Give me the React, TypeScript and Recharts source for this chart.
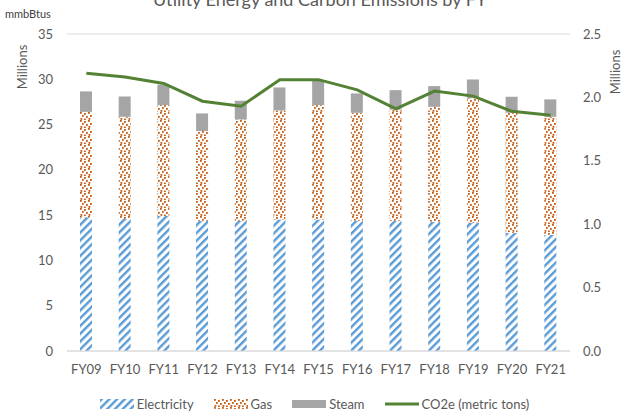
import React from "react";
import {
  Bar,
  CartesianGrid,
  ComposedChart,
  Legend,
  Line,
  XAxis,
  YAxis,
} from "recharts";

const years = ["FY09", "FY10", "FY11", "FY12", "FY13", "FY14", "FY15", "FY16", "FY17", "FY18", "FY19", "FY20", "FY21"];
// mmbtus, in millions
const electricity = [14.76, 14.57, 14.9, 14.38, 14.38, 14.53, 14.53, 14.38, 14.38, 14.27, 14.16, 13.06, 12.8];
const gas = [11.64, 11.29, 12.25, 9.9, 11.19, 12.03, 12.62, 11.92, 12.29, 12.69, 13.74, 13.24, 13.06];
const steam = [2.26, 2.24, 2.25, 1.95, 2.06, 2.54, 2.75, 2.14, 2.13, 2.29, 2.08, 1.77, 1.92];
// metric tons, in millions
const co2e = [2.19, 2.16, 2.11, 1.97, 1.93, 2.14, 2.14, 2.06, 1.91, 2.05, 2.01, 1.89, 1.86];

const leftTicks = [0, 5, 10, 15, 20, 25, 30, 35];
const rightTicks = [0, 0.5, 1, 1.5, 2, 2.5];

const data = years.map((fy, i) => ({
  fy,
  electricity: electricity[i],
  gas: gas[i],
  steam: steam[i],
  co2e: co2e[i],
}));

const FONT = "Lato, 'Open Sans', sans-serif";
const TEXT = "#595959";

const legendItems = [
  { name: "Electricity", kind: "elec" },
  { name: "Gas", kind: "gas" },
  { name: "Steam", kind: "steam" },
  { name: "CO2e (metric tons)", kind: "line" },
];

function LegendContent() {
  return (
    <div
      style={{
        display: "flex",
        justifyContent: "center",
        gap: 20,
        fontFamily: FONT,
        fontSize: 13,
        lineHeight: "14px",
        color: TEXT,
        height: 14,
        alignItems: "center",
        paddingLeft: 8,
      }}
    >
      {legendItems.map((it) => (
        <div key={it.name} style={{ display: "flex", alignItems: "center", gap: 3 }}>
          <svg width={34} height={10}>
            {it.kind === "elec" && <rect width={34} height={10} fill="url(#elecPat)" />}
            {it.kind === "gas" && <rect width={34} height={10} fill="url(#gasPat)" />}
            {it.kind === "steam" && <rect y={1} width={34} height={8} fill="#A5A5A5" />}
            {it.kind === "line" && <line x1={0} x2={34} y1={5} y2={5} stroke="#548235" strokeWidth={3} />}
          </svg>
          <span>{it.name}</span>
        </div>
      ))}
    </div>
  );
}

export default function App() {
  return (
    <div style={{ position: "absolute", left: 0, top: 0, width: 621, height: 411, background: "#fff" }}>
      <svg width={0} height={0} style={{ position: "absolute" }}>
        <defs>
          <pattern id="elecPat" patternUnits="userSpaceOnUse" width={5.5} height={5.5} patternTransform="rotate(45)">
            <rect width={5.5} height={5.5} fill="#fff" />
            <rect width={2.4} height={5.5} fill="#5B9BD5" />
          </pattern>
          <pattern id="gasPat" patternUnits="userSpaceOnUse" width={8} height={8}>
            <rect width={8} height={8} fill="#fff" />
            <rect x={0} y={0} width={1.8} height={1.8} fill="#C55A11" />
            <rect x={4} y={1} width={1.8} height={1.8} fill="#C55A11" />
            <rect x={2} y={3} width={1.8} height={1.8} fill="#C55A11" />
            <rect x={6} y={4} width={1.8} height={1.8} fill="#C55A11" />
            <rect x={0.5} y={6} width={1.8} height={1.8} fill="#C55A11" />
            <rect x={4} y={6.5} width={1.8} height={1.8} fill="#C55A11" />
          </pattern>
        </defs>
      </svg>
      <ComposedChart
        width={621}
        height={411}
        data={data}
        margin={{ top: 34, right: 0, left: 0, bottom: 0 }}
      >
        <text x={320} y={6} textAnchor="middle" fontFamily={FONT} fontSize={18} fill={TEXT}>
          Utility Energy and Carbon Emissions by FY
        </text>
        <text x={5} y={18} fontFamily={FONT} fontSize={11} fill="#404040">
          mmbBtus
        </text>
        <text
          x={0}
          y={0}
          transform="translate(27 67) rotate(-90)"
          textAnchor="middle"
          fontFamily={FONT}
          fontSize={13}
          fill={TEXT}
        >
          Millions
        </text>
        <text
          x={0}
          y={0}
          transform="translate(620 72) rotate(-90)"
          textAnchor="middle"
          fontFamily={FONT}
          fontSize={13}
          fill={TEXT}
        >
          Millions
        </text>
        <CartesianGrid vertical={false} stroke="#D9D9D9" />
        <XAxis
          dataKey="fy"
          height={46}
          tickLine={false}
          axisLine={{ stroke: "#D9D9D9" }}
          tick={{ fill: TEXT, fontSize: 13, fontFamily: FONT }}
          tickMargin={8}
          interval={0}
        />
        <YAxis
          yAxisId="left"
          width={67}
          domain={[0, 35]}
          ticks={leftTicks}
          tickLine={false}
          axisLine={false}
          tickSize={0}
          tickMargin={14}
          tick={{ fill: TEXT, fontSize: 13, fontFamily: FONT }}
        />
        <YAxis
          yAxisId="right"
          orientation="right"
          width={51}
          domain={[0, 2.5]}
          ticks={rightTicks}
          tickFormatter={(v: number) => v.toFixed(1)}
          tickLine={false}
          axisLine={false}
          tickSize={0}
          tickMargin={13}
          tick={{ fill: TEXT, fontSize: 13, fontFamily: FONT }}
        />
        <Legend verticalAlign="bottom" content={<LegendContent />} />
        <Bar yAxisId="left" dataKey="electricity" stackId="e" fill="url(#elecPat)" barSize={12} isAnimationActive={false} />
        <Bar yAxisId="left" dataKey="gas" stackId="e" fill="url(#gasPat)" barSize={12} isAnimationActive={false} />
        <Bar yAxisId="left" dataKey="steam" stackId="e" fill="#A5A5A5" barSize={12} isAnimationActive={false} />
        <Line
          yAxisId="right"
          dataKey="co2e"
          stroke="#548235"
          strokeWidth={3}
          dot={false}
          type="linear"
          isAnimationActive={false}
        />
      </ComposedChart>
    </div>
  );
}
